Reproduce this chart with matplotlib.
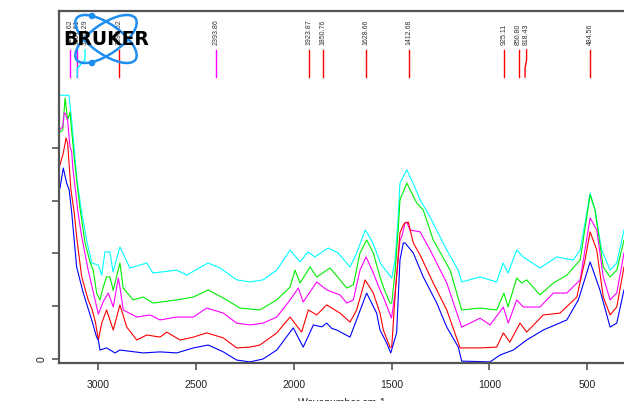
import matplotlib

matplotlib.use("Agg")
import matplotlib.pyplot as plt
from matplotlib.patches import Circle, Ellipse

plt.rcParams["font.family"] = ["Liberation Sans", "DejaVu Sans"]

# IR spectra of five samples: (wavenumber cm-1, absorbance)
cyan = [(3198, 1.0), (3147, 1.0), (3132, 0.895), (3106, 0.679), (3082, 0.554), (3054, 0.44),
        (3031, 0.364), (2997, 0.356), (2980, 0.318), (2963, 0.406), (2938, 0.406), (2922, 0.33),
        (2887, 0.425), (2836, 0.345), (2750, 0.364), (2718, 0.326), (2597, 0.337), (2546, 0.318),
        (2437, 0.364), (2376, 0.345), (2291, 0.30), (2223, 0.292), (2156, 0.30), (2086, 0.337),
        (2018, 0.413), (1967, 0.368), (1927, 0.406), (1891, 0.387), (1824, 0.421), (1773, 0.402),
        (1712, 0.349), (1678, 0.402), (1634, 0.489), (1595, 0.44), (1555, 0.36), (1499, 0.307),
        (1482, 0.375), (1467, 0.527), (1457, 0.667), (1422, 0.717), (1390, 0.667), (1354, 0.603),
        (1303, 0.538), (1218, 0.413), (1160, 0.337), (1142, 0.292), (1048, 0.311), (963, 0.292),
        (931, 0.364), (905, 0.326), (861, 0.413), (828, 0.387), (742, 0.345), (656, 0.387),
        (573, 0.375), (537, 0.413), (512, 0.516), (486, 0.629), (461, 0.565), (427, 0.413),
        (384, 0.337), (350, 0.364), (313, 0.489)]

green = [(3193, 0.861), (3179, 0.868), (3167, 0.99), (3154, 0.906), (3142, 0.936), (3137, 0.895),
         (3120, 0.76), (3108, 0.679), (3091, 0.573), (3065, 0.44), (3040, 0.368), (3023, 0.337),
         (3006, 0.25), (2989, 0.224), (2972, 0.273), (2955, 0.311), (2938, 0.311), (2921, 0.26),
         (2887, 0.364), (2870, 0.269), (2819, 0.224), (2768, 0.235), (2717, 0.212), (2597, 0.224),
         (2512, 0.235), (2436, 0.262), (2342, 0.224), (2274, 0.193), (2172, 0.186), (2086, 0.224),
         (2018, 0.273), (1993, 0.337), (1967, 0.288), (1916, 0.349), (1882, 0.311), (1814, 0.345),
         (1763, 0.30), (1729, 0.269), (1695, 0.281), (1661, 0.402), (1627, 0.451), (1593, 0.402),
         (1559, 0.311), (1542, 0.273), (1508, 0.212), (1499, 0.212), (1482, 0.33), (1465, 0.50),
         (1457, 0.603), (1422, 0.667), (1371, 0.591), (1338, 0.565), (1287, 0.451), (1201, 0.337),
         (1142, 0.186), (1048, 0.193), (963, 0.186), (926, 0.25), (905, 0.197), (861, 0.307),
         (835, 0.288), (810, 0.30), (742, 0.243), (674, 0.288), (605, 0.318), (537, 0.375),
         (486, 0.622), (461, 0.565), (419, 0.349), (384, 0.311), (350, 0.337), (313, 0.451)]

magenta = [(3197, 0.868), (3179, 0.88), (3171, 0.933), (3165, 0.93), (3154, 0.906), (3142, 0.804),
           (3133, 0.785), (3128, 0.728), (3108, 0.603), (3103, 0.565), (3082, 0.463), (3049, 0.337),
           (3014, 0.224), (2997, 0.17), (2972, 0.218), (2946, 0.25), (2921, 0.197), (2895, 0.307),
           (2887, 0.273), (2870, 0.186), (2801, 0.159), (2733, 0.167), (2682, 0.148), (2597, 0.159),
           (2512, 0.159), (2444, 0.193), (2359, 0.174), (2291, 0.136), (2223, 0.129), (2156, 0.136),
           (2086, 0.159), (2018, 0.224), (1976, 0.269), (1951, 0.216), (1882, 0.292), (1831, 0.262),
           (1763, 0.243), (1729, 0.212), (1695, 0.224), (1661, 0.337), (1630, 0.387), (1593, 0.326),
           (1559, 0.262), (1542, 0.235), (1500, 0.155), (1482, 0.25), (1457, 0.451), (1448, 0.463),
           (1431, 0.516), (1422, 0.519), (1406, 0.489), (1354, 0.482), (1303, 0.413), (1218, 0.288),
           (1142, 0.121), (1099, 0.136), (1048, 0.155), (997, 0.129), (929, 0.197), (904, 0.136),
           (861, 0.224), (827, 0.197), (742, 0.197), (674, 0.25), (605, 0.25), (537, 0.30),
           (486, 0.535), (452, 0.489), (419, 0.311), (384, 0.224), (350, 0.25), (313, 0.402)]

red = [(3193, 0.736), (3176, 0.781), (3162, 0.838), (3154, 0.819), (3137, 0.641), (3120, 0.554),
       (3108, 0.463), (3082, 0.311), (3049, 0.224), (3030, 0.19), (3012, 0.14), (2997, 0.072),
       (2980, 0.136), (2955, 0.186), (2921, 0.110), (2887, 0.205), (2852, 0.121), (2801, 0.072),
       (2750, 0.091), (2682, 0.083), (2648, 0.102), (2580, 0.072), (2512, 0.083), (2444, 0.099),
       (2359, 0.080), (2291, 0.042), (2223, 0.045), (2172, 0.053), (2086, 0.099), (2018, 0.159),
       (1959, 0.102), (1925, 0.186), (1882, 0.167), (1831, 0.205), (1763, 0.174), (1712, 0.140),
       (1678, 0.186), (1635, 0.300), (1593, 0.250), (1559, 0.174), (1542, 0.110), (1508, 0.045),
       (1499, 0.045), (1482, 0.24), (1457, 0.478), (1440, 0.508), (1431, 0.516), (1414, 0.519),
       (1389, 0.440), (1354, 0.394), (1287, 0.288), (1218, 0.186), (1150, 0.042), (1048, 0.042),
       (963, 0.045), (929, 0.099), (896, 0.064), (844, 0.136), (810, 0.102), (725, 0.167),
       (640, 0.174), (554, 0.235), (512, 0.375), (486, 0.482), (452, 0.413), (419, 0.235),
       (384, 0.167), (350, 0.197), (313, 0.349)]

blue = [(3193, 0.648), (3176, 0.724), (3159, 0.667), (3146, 0.641), (3133, 0.554), (3108, 0.349),
        (3074, 0.250), (3031, 0.148), (3006, 0.083), (2997, 0.072), (2989, 0.034), (2955, 0.042),
        (2912, 0.023), (2887, 0.034), (2768, 0.023), (2682, 0.027), (2597, 0.023), (2512, 0.042),
        (2436, 0.053), (2359, 0.027), (2291, -0.004), (2223, -0.011), (2156, 0.0), (2086, 0.034),
        (2002, 0.118), (1951, 0.045), (1899, 0.129), (1856, 0.122), (1831, 0.136), (1805, 0.116),
        (1780, 0.110), (1712, 0.083), (1627, 0.250), (1576, 0.174), (1559, 0.110), (1525, 0.061),
        (1504, 0.023), (1474, 0.099), (1457, 0.375), (1440, 0.440), (1431, 0.440), (1389, 0.402),
        (1338, 0.311), (1269, 0.212), (1218, 0.121), (1159, 0.045), (1142, -0.008), (997, -0.011),
        (946, 0.015), (878, 0.034), (810, 0.072), (725, 0.110), (605, 0.148), (546, 0.224),
        (486, 0.368), (436, 0.262), (384, 0.121), (350, 0.136), (313, 0.262)]

spectra = [(cyan, "#00ffff"), (green, "#00ee00"), (magenta, "#ff00ff"),
           (red, "#ff0000"), (blue, "#0000ff")]

# picked peaks and the colour of the spectrum they belong to
peak_wn = [3142.62, 3107.61, 3105.29, 2893.52, 2393.86, 1923.87, 1850.76,
           1628.66, 1412.68, 925.11, 850.80, 818.43, 484.56]
peak_colors = ["#ff00ff", "#ff00ff", "#00ffff", "#ff0000", "#ff00ff", "#ff0000", "#ff0000",
               "#ff0000", "#ff0000", "#ff0000", "#ff0000", "#ff0000", "#ff0000"]
# labels pushed sideways so they don't collide (cm-1)
label_shift = {3105.29: -40, 818.43: -8}

x_ticks = [3000, 2500, 2000, 1500, 1000, 500]
y_ticks = [0, 0.2, 0.4, 0.6, 0.8]

W, H = 624, 401
fig = plt.figure(figsize=(W / 100, H / 100), dpi=100)
ax = fig.add_axes([59 / W, 38.5 / H, 1 - 59 / W, 351.5 / H])

for pts, color in spectra:
    wn = [p[0] for p in pts]
    ab = [p[1] for p in pts]
    ax.plot(wn, ab, color=color, linewidth=0.8)

# peak markers with rotated value labels
y_bot, y_knee2, y_knee1, y_top, y_txt = 1.069, 1.102, 1.134, 1.172, 1.19
for wn, color in zip(peak_wn, peak_colors):
    lx = wn + label_shift.get(wn, 0)
    if lx != wn:
        ax.plot([lx, lx, wn, wn], [y_top, y_knee1, y_knee2, y_bot], color=color, linewidth=1)
    else:
        ax.plot([wn, wn], [y_top, y_bot], color=color, linewidth=1)
    ax.text(lx, y_txt, f"{wn:.2f}", rotation=90, ha="center", va="bottom",
            fontsize=5, color="#333333")

ax.set_xlim(3198, 313)
ax.set_ylim(-0.0133, 1.3194)
ax.set_xticks(x_ticks)
ax.set_yticks(y_ticks)
ax.set_yticklabels(["0", "", "", "", ""], rotation=90, va="center")
ax.set_xlabel("Wavenumber cm-1", fontsize=7.5, color="#222222", labelpad=6)

for side in ("top", "left", "bottom"):
    ax.spines[side].set_color("#555555")
    ax.spines[side].set_linewidth(1.6)
ax.spines["right"].set_visible(False)
ax.tick_params(direction="out", length=5, width=1.2, color="#555555",
               labelsize=7.5, labelcolor="#222222")
ax.tick_params(axis="x", pad=7.5)
ax.tick_params(axis="y", pad=4)

# vendor logo in the top-left corner, drawn in pixel space
lax = fig.add_axes([0, 0, 1, 1])
lax.set_xlim(0, W)
lax.set_ylim(H, 0)
lax.axis("off")
logo_blue = "#1f8ef1"
for ang in (35, -35):
    lax.add_patch(Ellipse((106, 39), 72, 30, angle=ang, fill=False,
                          edgecolor=logo_blue, linewidth=1.8))
for cy in (16, 63):
    lax.add_patch(Circle((92, cy), 2.6, color=logo_blue))
lax.text(106, 39.5, "BRUKER", ha="center", va="center", fontsize=13.5,
         fontweight="heavy", family="DejaVu Sans", color="black")

fig.savefig("out.png", dpi=100)
